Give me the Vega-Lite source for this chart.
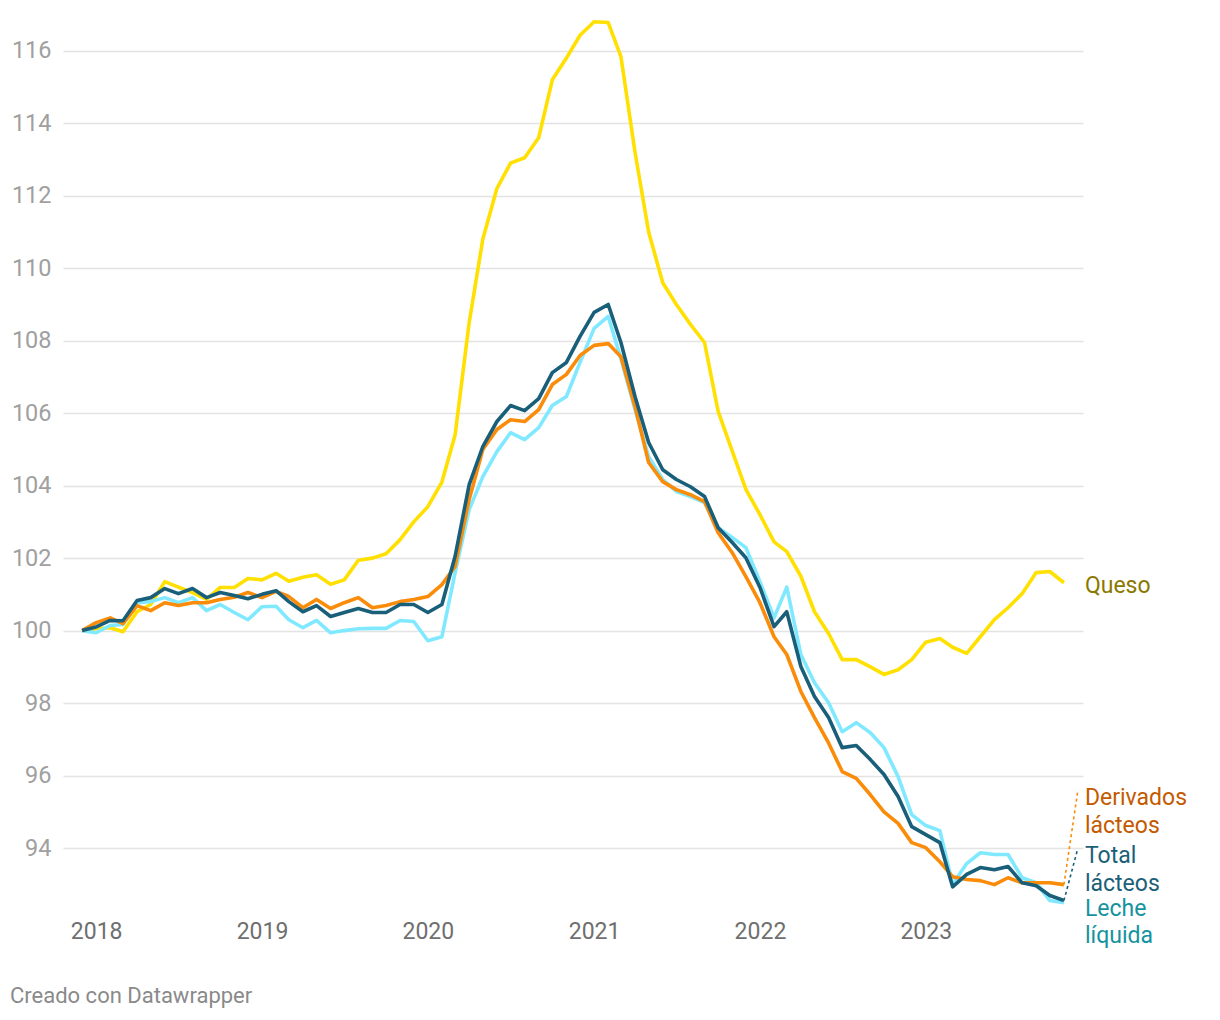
{
  "$schema": "https://vega.github.io/schema/vega-lite/v6.json",
  "width": 1020,
  "height": 886,
  "autosize": {"type": "none"},
  "padding": {"left": 63, "top": 20, "right": 137, "bottom": 114},
  "background": "white",
  "config": {
    "view": {"stroke": null},
    "font": "Roboto"
  },
  "title": {
    "text": "Creado con Datawrapper",
    "orient": "bottom",
    "anchor": "start",
    "frame": "group",
    "dx": -53,
    "offset": 38,
    "font": "Roboto",
    "fontSize": 22,
    "fontWeight": "normal",
    "color": "#8a8a8a"
  },
  "datasets": {
    "queso": [
      {"date": "2017-12-01", "v": 100},
      {"date": "2018-01-01", "v": 100.05},
      {"date": "2018-02-01", "v": 100.08},
      {"date": "2018-03-01", "v": 99.97},
      {"date": "2018-04-01", "v": 100.52},
      {"date": "2018-05-01", "v": 100.72},
      {"date": "2018-06-01", "v": 101.35},
      {"date": "2018-07-01", "v": 101.2},
      {"date": "2018-08-01", "v": 101.05},
      {"date": "2018-09-01", "v": 100.86},
      {"date": "2018-10-01", "v": 101.19},
      {"date": "2018-11-01", "v": 101.19},
      {"date": "2018-12-01", "v": 101.44},
      {"date": "2019-01-01", "v": 101.4},
      {"date": "2019-02-01", "v": 101.58},
      {"date": "2019-03-01", "v": 101.36},
      {"date": "2019-04-01", "v": 101.47},
      {"date": "2019-05-01", "v": 101.54},
      {"date": "2019-06-01", "v": 101.28},
      {"date": "2019-07-01", "v": 101.4},
      {"date": "2019-08-01", "v": 101.94},
      {"date": "2019-09-01", "v": 102.0},
      {"date": "2019-10-01", "v": 102.12},
      {"date": "2019-11-01", "v": 102.51},
      {"date": "2019-12-01", "v": 103.0},
      {"date": "2020-01-01", "v": 103.42},
      {"date": "2020-02-01", "v": 104.1},
      {"date": "2020-03-01", "v": 105.4},
      {"date": "2020-04-01", "v": 108.5},
      {"date": "2020-05-01", "v": 110.8},
      {"date": "2020-06-01", "v": 112.2},
      {"date": "2020-07-01", "v": 112.9},
      {"date": "2020-08-01", "v": 113.05},
      {"date": "2020-09-01", "v": 113.6},
      {"date": "2020-10-01", "v": 115.2},
      {"date": "2020-11-01", "v": 115.8},
      {"date": "2020-12-01", "v": 116.43},
      {"date": "2021-01-01", "v": 116.8},
      {"date": "2021-02-01", "v": 116.78},
      {"date": "2021-03-01", "v": 115.84},
      {"date": "2021-04-01", "v": 113.2},
      {"date": "2021-05-01", "v": 111.0},
      {"date": "2021-06-01", "v": 109.6},
      {"date": "2021-07-01", "v": 109.0},
      {"date": "2021-08-01", "v": 108.45},
      {"date": "2021-09-01", "v": 107.95},
      {"date": "2021-10-01", "v": 106.05},
      {"date": "2021-11-01", "v": 104.95},
      {"date": "2021-12-01", "v": 103.9},
      {"date": "2022-01-01", "v": 103.2},
      {"date": "2022-02-01", "v": 102.45},
      {"date": "2022-03-01", "v": 102.18},
      {"date": "2022-04-01", "v": 101.5},
      {"date": "2022-05-01", "v": 100.52},
      {"date": "2022-06-01", "v": 99.92},
      {"date": "2022-07-01", "v": 99.2},
      {"date": "2022-08-01", "v": 99.2},
      {"date": "2022-09-01", "v": 99.0},
      {"date": "2022-10-01", "v": 98.79},
      {"date": "2022-11-01", "v": 98.92},
      {"date": "2022-12-01", "v": 99.2},
      {"date": "2023-01-01", "v": 99.68},
      {"date": "2023-02-01", "v": 99.78},
      {"date": "2023-03-01", "v": 99.54},
      {"date": "2023-04-01", "v": 99.37},
      {"date": "2023-05-01", "v": 99.83},
      {"date": "2023-06-01", "v": 100.3},
      {"date": "2023-07-01", "v": 100.63},
      {"date": "2023-08-01", "v": 101.02},
      {"date": "2023-09-01", "v": 101.6},
      {"date": "2023-10-01", "v": 101.63},
      {"date": "2023-11-01", "v": 101.32}
    ],
    "leche": [
      {"date": "2017-12-01", "v": 100},
      {"date": "2018-01-01", "v": 99.94},
      {"date": "2018-02-01", "v": 100.14},
      {"date": "2018-03-01", "v": 100.17},
      {"date": "2018-04-01", "v": 100.77},
      {"date": "2018-05-01", "v": 100.8},
      {"date": "2018-06-01", "v": 100.91},
      {"date": "2018-07-01", "v": 100.77},
      {"date": "2018-08-01", "v": 100.91},
      {"date": "2018-09-01", "v": 100.55},
      {"date": "2018-10-01", "v": 100.72},
      {"date": "2018-11-01", "v": 100.5},
      {"date": "2018-12-01", "v": 100.3},
      {"date": "2019-01-01", "v": 100.66},
      {"date": "2019-02-01", "v": 100.67},
      {"date": "2019-03-01", "v": 100.3},
      {"date": "2019-04-01", "v": 100.08},
      {"date": "2019-05-01", "v": 100.28},
      {"date": "2019-06-01", "v": 99.94},
      {"date": "2019-07-01", "v": 100.0},
      {"date": "2019-08-01", "v": 100.05},
      {"date": "2019-09-01", "v": 100.06},
      {"date": "2019-10-01", "v": 100.06},
      {"date": "2019-11-01", "v": 100.28},
      {"date": "2019-12-01", "v": 100.25},
      {"date": "2020-01-01", "v": 99.72},
      {"date": "2020-02-01", "v": 99.83},
      {"date": "2020-03-01", "v": 101.6},
      {"date": "2020-04-01", "v": 103.34},
      {"date": "2020-05-01", "v": 104.25},
      {"date": "2020-06-01", "v": 104.94},
      {"date": "2020-07-01", "v": 105.46},
      {"date": "2020-08-01", "v": 105.27},
      {"date": "2020-09-01", "v": 105.6},
      {"date": "2020-10-01", "v": 106.21},
      {"date": "2020-11-01", "v": 106.46},
      {"date": "2020-12-01", "v": 107.4},
      {"date": "2021-01-01", "v": 108.34},
      {"date": "2021-02-01", "v": 108.67},
      {"date": "2021-03-01", "v": 107.5},
      {"date": "2021-04-01", "v": 106.1},
      {"date": "2021-05-01", "v": 104.8},
      {"date": "2021-06-01", "v": 104.17},
      {"date": "2021-07-01", "v": 103.84},
      {"date": "2021-08-01", "v": 103.7},
      {"date": "2021-09-01", "v": 103.53},
      {"date": "2021-10-01", "v": 102.84},
      {"date": "2021-11-01", "v": 102.57},
      {"date": "2021-12-01", "v": 102.29},
      {"date": "2022-01-01", "v": 101.35},
      {"date": "2022-02-01", "v": 100.35},
      {"date": "2022-03-01", "v": 101.2},
      {"date": "2022-04-01", "v": 99.34},
      {"date": "2022-05-01", "v": 98.56},
      {"date": "2022-06-01", "v": 98.01},
      {"date": "2022-07-01", "v": 97.21},
      {"date": "2022-08-01", "v": 97.46},
      {"date": "2022-09-01", "v": 97.18},
      {"date": "2022-10-01", "v": 96.77},
      {"date": "2022-11-01", "v": 95.97},
      {"date": "2022-12-01", "v": 94.92},
      {"date": "2023-01-01", "v": 94.62},
      {"date": "2023-02-01", "v": 94.48},
      {"date": "2023-03-01", "v": 93.0},
      {"date": "2023-04-01", "v": 93.57},
      {"date": "2023-05-01", "v": 93.87},
      {"date": "2023-06-01", "v": 93.82},
      {"date": "2023-07-01", "v": 93.82},
      {"date": "2023-08-01", "v": 93.18},
      {"date": "2023-09-01", "v": 93.04},
      {"date": "2023-10-01", "v": 92.55},
      {"date": "2023-11-01", "v": 92.49}
    ],
    "derivados": [
      {"date": "2017-12-01", "v": 100},
      {"date": "2018-01-01", "v": 100.22},
      {"date": "2018-02-01", "v": 100.35},
      {"date": "2018-03-01", "v": 100.19},
      {"date": "2018-04-01", "v": 100.69},
      {"date": "2018-05-01", "v": 100.55},
      {"date": "2018-06-01", "v": 100.77},
      {"date": "2018-07-01", "v": 100.69},
      {"date": "2018-08-01", "v": 100.77},
      {"date": "2018-09-01", "v": 100.77},
      {"date": "2018-10-01", "v": 100.86},
      {"date": "2018-11-01", "v": 100.92},
      {"date": "2018-12-01", "v": 101.05},
      {"date": "2019-01-01", "v": 100.91},
      {"date": "2019-02-01", "v": 101.08},
      {"date": "2019-03-01", "v": 100.94},
      {"date": "2019-04-01", "v": 100.63},
      {"date": "2019-05-01", "v": 100.86},
      {"date": "2019-06-01", "v": 100.61},
      {"date": "2019-07-01", "v": 100.77},
      {"date": "2019-08-01", "v": 100.91},
      {"date": "2019-09-01", "v": 100.63},
      {"date": "2019-10-01", "v": 100.69},
      {"date": "2019-11-01", "v": 100.8},
      {"date": "2019-12-01", "v": 100.86},
      {"date": "2020-01-01", "v": 100.94},
      {"date": "2020-02-01", "v": 101.27},
      {"date": "2020-03-01", "v": 101.77},
      {"date": "2020-04-01", "v": 103.62},
      {"date": "2020-05-01", "v": 105.0},
      {"date": "2020-06-01", "v": 105.55},
      {"date": "2020-07-01", "v": 105.82},
      {"date": "2020-08-01", "v": 105.77},
      {"date": "2020-09-01", "v": 106.1},
      {"date": "2020-10-01", "v": 106.79},
      {"date": "2020-11-01", "v": 107.07},
      {"date": "2020-12-01", "v": 107.59},
      {"date": "2021-01-01", "v": 107.87},
      {"date": "2021-02-01", "v": 107.92},
      {"date": "2021-03-01", "v": 107.56},
      {"date": "2021-04-01", "v": 106.18},
      {"date": "2021-05-01", "v": 104.64},
      {"date": "2021-06-01", "v": 104.11},
      {"date": "2021-07-01", "v": 103.89},
      {"date": "2021-08-01", "v": 103.75},
      {"date": "2021-09-01", "v": 103.56},
      {"date": "2021-10-01", "v": 102.7},
      {"date": "2021-11-01", "v": 102.15},
      {"date": "2021-12-01", "v": 101.49},
      {"date": "2022-01-01", "v": 100.77},
      {"date": "2022-02-01", "v": 99.83},
      {"date": "2022-03-01", "v": 99.34},
      {"date": "2022-04-01", "v": 98.32},
      {"date": "2022-05-01", "v": 97.6},
      {"date": "2022-06-01", "v": 96.9},
      {"date": "2022-07-01", "v": 96.11},
      {"date": "2022-08-01", "v": 95.92},
      {"date": "2022-09-01", "v": 95.47},
      {"date": "2022-10-01", "v": 95.0},
      {"date": "2022-11-01", "v": 94.68},
      {"date": "2022-12-01", "v": 94.15},
      {"date": "2023-01-01", "v": 94.01},
      {"date": "2023-02-01", "v": 93.62},
      {"date": "2023-03-01", "v": 93.21},
      {"date": "2023-04-01", "v": 93.13},
      {"date": "2023-05-01", "v": 93.1},
      {"date": "2023-06-01", "v": 92.99},
      {"date": "2023-07-01", "v": 93.18},
      {"date": "2023-08-01", "v": 93.04},
      {"date": "2023-09-01", "v": 93.04},
      {"date": "2023-10-01", "v": 93.04},
      {"date": "2023-11-01", "v": 92.99}
    ],
    "total": [
      {"date": "2017-12-01", "v": 100},
      {"date": "2018-01-01", "v": 100.1},
      {"date": "2018-02-01", "v": 100.28},
      {"date": "2018-03-01", "v": 100.27},
      {"date": "2018-04-01", "v": 100.83},
      {"date": "2018-05-01", "v": 100.91},
      {"date": "2018-06-01", "v": 101.16},
      {"date": "2018-07-01", "v": 101.02},
      {"date": "2018-08-01", "v": 101.16},
      {"date": "2018-09-01", "v": 100.91},
      {"date": "2018-10-01", "v": 101.05},
      {"date": "2018-11-01", "v": 100.97},
      {"date": "2018-12-01", "v": 100.88},
      {"date": "2019-01-01", "v": 101.0},
      {"date": "2019-02-01", "v": 101.1},
      {"date": "2019-03-01", "v": 100.8},
      {"date": "2019-04-01", "v": 100.52},
      {"date": "2019-05-01", "v": 100.69},
      {"date": "2019-06-01", "v": 100.39},
      {"date": "2019-07-01", "v": 100.5},
      {"date": "2019-08-01", "v": 100.61},
      {"date": "2019-09-01", "v": 100.5},
      {"date": "2019-10-01", "v": 100.5},
      {"date": "2019-11-01", "v": 100.72},
      {"date": "2019-12-01", "v": 100.72},
      {"date": "2020-01-01", "v": 100.5},
      {"date": "2020-02-01", "v": 100.72},
      {"date": "2020-03-01", "v": 102.05},
      {"date": "2020-04-01", "v": 104.03},
      {"date": "2020-05-01", "v": 105.08},
      {"date": "2020-06-01", "v": 105.77},
      {"date": "2020-07-01", "v": 106.21},
      {"date": "2020-08-01", "v": 106.07},
      {"date": "2020-09-01", "v": 106.4},
      {"date": "2020-10-01", "v": 107.12},
      {"date": "2020-11-01", "v": 107.4},
      {"date": "2020-12-01", "v": 108.12},
      {"date": "2021-01-01", "v": 108.78},
      {"date": "2021-02-01", "v": 109.0},
      {"date": "2021-03-01", "v": 107.95},
      {"date": "2021-04-01", "v": 106.46},
      {"date": "2021-05-01", "v": 105.19},
      {"date": "2021-06-01", "v": 104.44},
      {"date": "2021-07-01", "v": 104.17},
      {"date": "2021-08-01", "v": 103.97},
      {"date": "2021-09-01", "v": 103.7},
      {"date": "2021-10-01", "v": 102.84},
      {"date": "2021-11-01", "v": 102.43},
      {"date": "2021-12-01", "v": 102.01},
      {"date": "2022-01-01", "v": 101.19},
      {"date": "2022-02-01", "v": 100.11},
      {"date": "2022-03-01", "v": 100.52},
      {"date": "2022-04-01", "v": 99.01},
      {"date": "2022-05-01", "v": 98.18},
      {"date": "2022-06-01", "v": 97.6},
      {"date": "2022-07-01", "v": 96.77},
      {"date": "2022-08-01", "v": 96.83},
      {"date": "2022-09-01", "v": 96.44},
      {"date": "2022-10-01", "v": 96.03},
      {"date": "2022-11-01", "v": 95.42},
      {"date": "2022-12-01", "v": 94.59},
      {"date": "2023-01-01", "v": 94.37},
      {"date": "2023-02-01", "v": 94.15},
      {"date": "2023-03-01", "v": 92.93},
      {"date": "2023-04-01", "v": 93.27},
      {"date": "2023-05-01", "v": 93.46},
      {"date": "2023-06-01", "v": 93.4},
      {"date": "2023-07-01", "v": 93.49},
      {"date": "2023-08-01", "v": 93.04},
      {"date": "2023-09-01", "v": 92.96},
      {"date": "2023-10-01", "v": 92.69},
      {"date": "2023-11-01", "v": 92.55}
    ],
    "leaders": [
      {"s": "Derivados lácteos", "date": "2023-11-01", "v": 92.99},
      {"s": "Derivados lácteos", "date": "2023-12-01", "v": 95.53},
      {"s": "Total lácteos", "date": "2023-11-01", "v": 92.55},
      {"s": "Total lácteos", "date": "2023-12-01", "v": 93.96}
    ],
    "labels": [
      {"s": "Queso", "t": "Queso", "date": "2023-11-01", "v": 101.22},
      {"s": "Derivados lácteos", "t": "Derivados", "date": "2023-11-01", "v": 95.37},
      {"s": "Derivados lácteos", "t": "lácteos", "date": "2023-11-01", "v": 94.6},
      {"s": "Total lácteos", "t": "Total", "date": "2023-11-01", "v": 93.77},
      {"s": "Total lácteos", "t": "lácteos", "date": "2023-11-01", "v": 93.0},
      {"s": "Leche líquida", "t": "Leche", "date": "2023-11-01", "v": 92.33},
      {"s": "Leche líquida", "t": "líquida", "date": "2023-11-01", "v": 91.56}
    ]
  },
  "encoding": {
    "x": {
      "field": "date",
      "type": "temporal",
      "scale": {"type": "utc", "domain": ["2017-10-20", "2023-12-13"], "nice": false},
      "axis": {
        "title": null,
        "format": "%Y",
        "tickCount": {"interval": "year", "step": 1},
        "grid": false,
        "domain": false,
        "ticks": false,
        "labelPadding": 14,
        "labelFont": "Roboto",
        "labelFontSize": 23,
        "labelColor": "#6f6f6f",
        "labelFlush": false,
        "labelOverlap": false
      }
    },
    "y": {
      "field": "v",
      "type": "quantitative",
      "scale": {"domain": [92.4, 116.85], "nice": false, "zero": false},
      "axis": {
        "title": null,
        "values": [94, 96, 98, 100, 102, 104, 106, 108, 110, 112, 114, 116],
        "grid": true,
        "gridColor": "#e3e3e3",
        "gridWidth": 1.5,
        "domain": false,
        "ticks": false,
        "tickSize": 0,
        "labelPadding": 12,
        "labelFont": "Roboto",
        "labelFontSize": 23.5,
        "labelColor": "#a0a0a0"
      }
    }
  },
  "layer": [
    {
      "data": {"name": "queso"},
      "mark": {"type": "line", "color": "#ffe000", "strokeWidth": 3.6, "strokeJoin": "round"}
    },
    {
      "data": {"name": "leche"},
      "mark": {"type": "line", "color": "#80e9ff", "strokeWidth": 3.6, "strokeJoin": "round"}
    },
    {
      "data": {"name": "derivados"},
      "mark": {"type": "line", "color": "#fa8c0a", "strokeWidth": 3.6, "strokeJoin": "round"}
    },
    {
      "data": {"name": "total"},
      "mark": {"type": "line", "color": "#1a5f79", "strokeWidth": 3.6, "strokeJoin": "round"}
    },
    {
      "data": {"name": "leaders"},
      "mark": {"type": "line", "strokeWidth": 1.6, "strokeDash": [3, 3]},
      "encoding": {
        "stroke": {
          "field": "s",
          "type": "nominal",
          "scale": {"domain": ["Derivados lácteos", "Total lácteos"], "range": ["#fa8c0a", "#1a5f79"]},
          "legend": null
        }
      }
    },
    {
      "data": {"name": "labels"},
      "mark": {"type": "text", "align": "left", "baseline": "middle", "dx": 21, "font": "Roboto", "fontSize": 23},
      "encoding": {
        "text": {"field": "t"},
        "fill": {
          "field": "s",
          "type": "nominal",
          "scale": {"domain": ["Queso", "Derivados lácteos", "Total lácteos", "Leche líquida"], "range": ["#8a7800", "#c45a00", "#1b5f79", "#14939f"]},
          "legend": null
        }
      }
    }
  ]
}
